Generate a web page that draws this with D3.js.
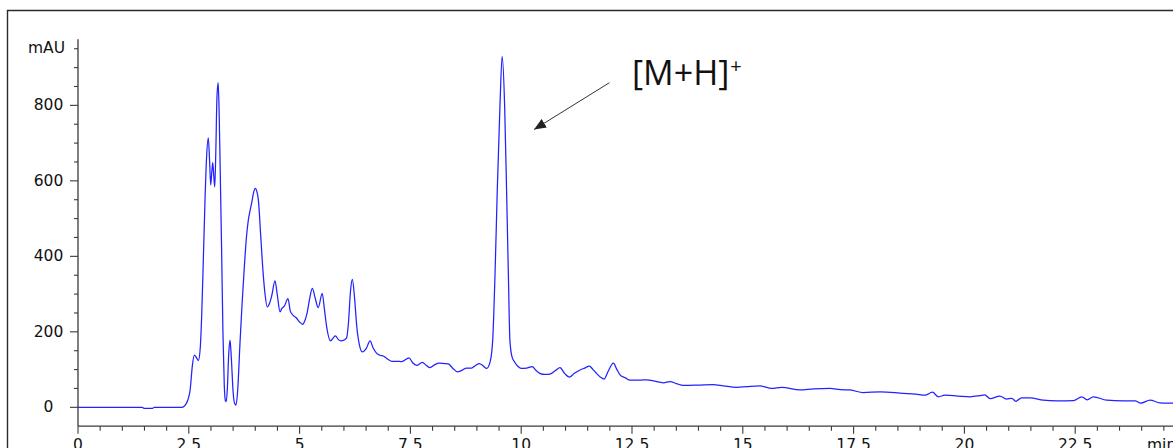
<!DOCTYPE html>
<html>
<head>
<meta charset="utf-8">
<script src="https://cdn.jsdelivr.net/npm/d3@7"></script>
<style>
  html, body { margin: 0; padding: 0; background: #fff; overflow: hidden; }
  svg { display: block; }
  .tick-label { font-family: "DejaVu Sans", sans-serif; font-size: 15.5px; fill: #111; }
</style>
</head>
<body>
<svg id="chart" width="1173" height="448"></svg>
<script>
// Retention time (min) and detector response (mAU) of the chromatogram trace
const retentionTime = [
  0, 1.45, 1.5, 1.68, 1.72, 2.34, 2.42, 2.48, 2.53, 2.58, 2.625, 2.67, 2.716, 2.76, 2.79, 2.83,
  2.866, 2.90, 2.94, 2.97, 2.994, 3.02, 3.04, 3.065, 3.086, 3.11, 3.135, 3.162, 3.185, 3.21, 3.24,
  3.27, 3.30, 3.325, 3.345, 3.37, 3.40, 3.43, 3.46, 3.50, 3.535, 3.565, 3.60, 3.655, 3.70, 3.753,
  3.80, 3.843, 3.88, 3.92, 3.96, 4.0, 4.035, 4.07, 4.12, 4.167, 4.22, 4.27, 4.32, 4.37, 4.445,
  4.50, 4.558, 4.60, 4.655, 4.738, 4.79, 4.844, 4.934, 5.0, 5.07, 5.12, 5.17, 5.23, 5.287, 5.35,
  5.42, 5.51, 5.56, 5.61, 5.70, 5.76, 5.81, 5.87, 5.934, 6.0, 6.06, 6.10, 6.15, 6.19, 6.24, 6.29,
  6.35, 6.415, 6.50, 6.59, 6.66, 6.74, 6.81, 6.89, 6.96, 7.08, 7.20, 7.30, 7.47, 7.55, 7.64, 7.77,
  7.86, 7.94, 8.05, 8.145, 8.28, 8.355, 8.46, 8.56, 8.66, 8.77, 8.88, 8.97, 9.055, 9.14, 9.22,
  9.30, 9.357, 9.41, 9.46, 9.52, 9.57, 9.627, 9.67, 9.71, 9.745, 9.79, 9.85, 9.93, 10.0, 10.12,
  10.25, 10.33, 10.42, 10.53, 10.65, 10.78, 10.875, 10.98, 11.085, 11.2, 11.33, 11.43, 11.54,
  11.62, 11.70, 11.80, 11.87, 11.96, 12.08, 12.16, 12.23, 12.35, 12.455, 12.68, 12.83, 12.98,
  13.21, 13.36, 13.50, 13.66, 14.03, 14.33, 14.56, 14.86, 15.09, 15.39, 15.65, 15.88, 16.29, 16.6,
  16.97, 17.2, 17.42, 17.72, 18.10, 18.62, 18.9, 19.11, 19.28, 19.41, 19.56, 19.85, 20.13, 20.35,
  20.46, 20.58, 20.80, 20.95, 21.07, 21.16, 21.29, 21.48, 21.78, 22.08, 22.46, 22.65, 22.77,
  22.91, 23.21, 23.58, 23.85, 23.98, 24.19, 24.41, 24.69, 25.0
];
const absorbance = [
  0, 0, -3, -3, 0, 0, 6, 20, 46, 110, 138, 132, 124, 160, 240, 400,
  550, 660, 714, 650, 589, 625, 648, 610, 584, 680, 820, 860, 780, 620, 420,
  200, 60, 18, 15, 50, 140, 178, 130, 40, 10, 6, 40, 170, 270, 372,
  450, 496, 520, 542, 568, 580, 572, 549, 460, 372, 300, 266, 275, 295, 335,
  295, 253, 262, 268, 288, 255, 245, 236, 226, 220, 230, 250, 290, 315, 290,
  264, 302, 260, 214, 176, 184, 189, 180, 176, 178, 184, 220, 310, 339, 290, 214,
  165, 147, 155, 176, 157, 143, 138, 136, 130, 122, 122, 121, 131, 118, 111, 119,
  111, 105, 113, 117, 116, 115, 103, 94, 98, 104, 104, 111, 116, 110, 103,
  121, 178, 355, 575, 796, 930, 796, 575, 355, 178, 135, 120, 108, 103, 104,
  108, 98, 90, 87, 88, 98, 105, 90, 80, 90, 99, 104, 109,
  100, 90, 79, 75, 95, 117, 100, 86, 78, 72, 72, 73, 70,
  65, 68, 63, 58, 59, 60, 57, 53, 55, 57, 50, 53, 46, 49,
  50, 47, 46, 39, 41, 37, 35, 32, 40, 28, 32, 30, 28, 31,
  33, 23, 30, 22, 24, 16, 25, 25, 19, 17, 18, 28, 20,
  28, 19, 17, 17, 11, 19, 12, 11, 9
];

// Axis ticks
const xMajorTicks = [0, 2.5, 5, 7.5, 10, 12.5, 15, 17.5, 20, 22.5];
const xMajorLabels = ["0", "2.5", "5", "7.5", "10", "12.5", "15", "17.5", "20", "22.5"];
const xMinorTicks = d3.range(0.5, 25, 0.5).filter(t => Math.abs(t / 2.5 - Math.round(t / 2.5)) > 1e-6);
const yMajorTicks = [0, 200, 400, 600, 800];
const yMajorLabels = ["0", "200", "400", "600", "800"];
const yMinorTicks = [50, 100, 150, 250, 300, 350, 450, 500, 550, 650, 700, 750, 850, 900, 950];
const yUnitTick = 950;

// Annotation for the molecular ion peak (data units)
const ionLabel = "[M+H]";
const arrowFrom = { t: 11.99, v: 860 };
const arrowTo = { t: 10.29, v: 736 };
const labelAt = { t: 12.5, v: 854 };

const svg = d3.select("#chart");

const x = d3.scaleLinear().domain([0, 25]).range([78, 78 + 25 * 44.32]);
const y = d3.scaleLinear().domain([-50, 975]).range([426.2, 39.3]);

// outer frame
svg.append("path")
  .attr("d", "M7.5,448 V10.5 H1173")
  .attr("fill", "none")
  .attr("stroke", "#2a2a2a")
  .attr("stroke-width", 1.4);

const axisColor = "#3a3a3a";

// y axis
svg.append("line")
  .attr("x1", x(0)).attr("x2", x(0))
  .attr("y1", y(975)).attr("y2", y(-50))
  .attr("stroke", axisColor).attr("stroke-width", 1.3);

svg.selectAll(".ymaj").data(yMajorTicks).join("line")
  .attr("x1", x(0) - 8).attr("x2", x(0))
  .attr("y1", d => y(d)).attr("y2", d => y(d))
  .attr("stroke", axisColor).attr("stroke-width", 1.1);

svg.selectAll(".ymin").data(yMinorTicks).join("line")
  .attr("x1", x(0) - 4).attr("x2", x(0))
  .attr("y1", d => y(d)).attr("y2", d => y(d))
  .attr("stroke", axisColor).attr("stroke-width", 1.1);

svg.selectAll(".ylab").data(yMajorTicks).join("text")
  .attr("class", "tick-label")
  .attr("x", 48.5)
  .attr("y", d => y(d) + 5)
  .attr("text-anchor", "middle")
  .text((d, i) => yMajorLabels[i]);

svg.append("text")
  .attr("class", "tick-label")
  .attr("x", 46.5)
  .attr("y", y(yUnitTick) + 4.5)
  .attr("text-anchor", "middle")
  .text("mAU");

// x axis
svg.append("line")
  .attr("x1", x(0)).attr("x2", 1173)
  .attr("y1", y(-50)).attr("y2", y(-50))
  .attr("stroke", axisColor).attr("stroke-width", 1.3);

svg.selectAll(".xmaj").data(xMajorTicks).join("line")
  .attr("x1", d => x(d)).attr("x2", d => x(d))
  .attr("y1", y(-50)).attr("y2", y(-50) + 7.5)
  .attr("stroke", axisColor).attr("stroke-width", 1.1);

svg.selectAll(".xmin").data(xMinorTicks).join("line")
  .attr("x1", d => x(d)).attr("x2", d => x(d))
  .attr("y1", y(-50)).attr("y2", y(-50) + 4.5)
  .attr("stroke", axisColor).attr("stroke-width", 1.1);

svg.selectAll(".xlab").data(xMajorTicks).join("text")
  .attr("class", "tick-label")
  .attr("x", d => x(d))
  .attr("y", 450)
  .attr("text-anchor", "middle")
  .text((d, i) => xMajorLabels[i]);

svg.append("text")
  .attr("class", "tick-label")
  .attr("x", 1147)
  .attr("y", 450)
  .text("min");

// chromatogram trace
const points = retentionTime.map((t, i) => [t, absorbance[i]]);
const line = d3.line()
  .x(d => x(d[0]))
  .y(d => y(d[1]))
  .curve(d3.curveMonotoneX);

svg.append("path")
  .datum(points)
  .attr("d", line)
  .attr("fill", "none")
  .attr("stroke", "#2222ff")
  .attr("stroke-width", 1.25)
  .attr("stroke-linejoin", "round");

// annotation arrow
svg.append("defs").append("marker")
  .attr("id", "arrowhead")
  .attr("viewBox", "0 0 12 10")
  .attr("refX", 12).attr("refY", 5)
  .attr("markerWidth", 12).attr("markerHeight", 10)
  .attr("markerUnits", "userSpaceOnUse")
  .attr("orient", "auto")
  .append("path")
  .attr("d", "M0,0 L12,5 L0,10 Z")
  .attr("fill", "#222");

svg.append("line")
  .attr("x1", x(arrowFrom.t)).attr("y1", y(arrowFrom.v))
  .attr("x2", x(arrowTo.t)).attr("y2", y(arrowTo.v))
  .attr("stroke", "#333")
  .attr("stroke-width", 1)
  .attr("marker-end", "url(#arrowhead)");

const ion = svg.append("text")
  .attr("x", x(labelAt.t))
  .attr("y", y(labelAt.v))
  .attr("font-family", "'Open Sans', sans-serif")
  .attr("font-size", 34)
  .attr("fill", "#111");
ion.append("tspan").text(ionLabel);
ion.append("tspan")
  .attr("font-size", 20)
  .attr("dy", -12)
  .attr("dx", 1)
  .text("+");
</script>
</body>
</html>
